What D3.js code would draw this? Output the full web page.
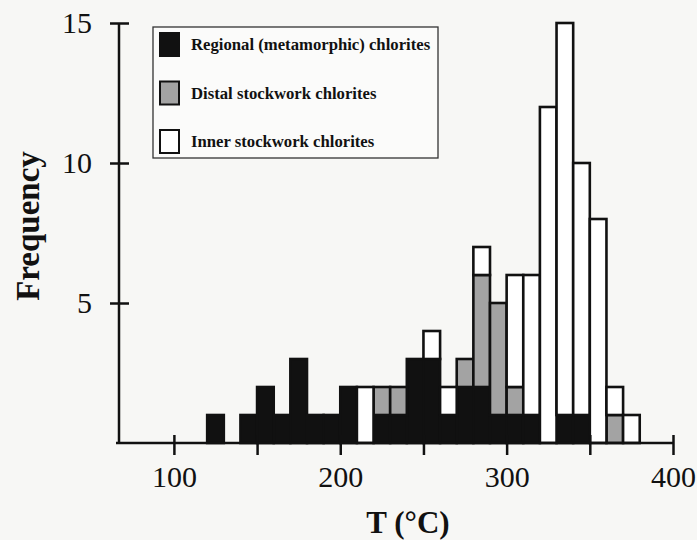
<!DOCTYPE html>
<html>
<head>
<meta charset="utf-8">
<script src="https://cdn.jsdelivr.net/npm/d3@7/dist/d3.min.js"></script>
<style>
  body { margin: 0; background: #f7f7f5; }
  svg { display: block; font-family: "Liberation Serif", "Times New Roman", serif; }
</style>
</head>
<body>
<div id="chart"></div>
<script>
// bin starts (deg C), bins are 10 deg wide
var binStarts = [120, 130, 140, 150, 160, 170, 180, 190, 200, 210, 220, 230, 240,
                 250, 260, 270, 280, 290, 300, 310, 320, 330, 340, 350, 360, 370];
var regional  = [1, 0, 1, 2, 1, 3, 1, 1, 2, 0, 1, 1, 3, 3, 1, 2, 2, 1, 1, 1, 0, 1, 1, 0, 0, 0];
var distal    = [0, 0, 0, 0, 0, 0, 0, 0, 0, 0, 1, 1, 0, 0, 0, 1, 4, 4, 1, 0, 0, 0, 0, 0, 1, 0];
var inner     = [0, 0, 0, 0, 0, 0, 0, 0, 0, 2, 0, 0, 0, 1, 1, 0, 1, 0, 4, 5, 12, 14, 9, 8, 1, 1];

var seriesNames = ["Regional (metamorphic) chlorites", "Distal stockwork chlorites", "Inner stockwork chlorites"];
var seriesKeys = ["regional", "distal", "inner"];
var seriesColors = ["#111111", "#a3a3a3", "#ffffff"];
var xTicks = [100, 150, 200, 250, 300, 350, 400];
var xTickLabels = ["100", "", "200", "", "300", "", "400"];
var yTicks = [5, 10, 15];

var width = 697, height = 540;
var binWidth = 10;

var svg = d3.select("#chart").append("svg")
    .attr("width", width)
    .attr("height", height);

var x = d3.scaleLinear().domain([67, 400]).range([119, 673]);
var y = d3.scaleLinear().domain([0, 15]).range([443, 23]);

var rows = binStarts.map(function (b, i) {
    return { bin: b, regional: regional[i], distal: distal[i], inner: inner[i] };
});
var stacked = d3.stack().keys(seriesKeys)(rows);

// bars
var layers = svg.append("g").selectAll("g")
    .data(stacked)
    .enter().append("g")
    .attr("fill", function (d, i) { return seriesColors[i]; });

layers.selectAll("rect")
    .data(function (d) { return d.filter(function (s) { return s[1] > s[0]; }); })
    .enter().append("rect")
    .attr("x", function (d) { return x(d.data.bin); })
    .attr("width", function (d) { return x(d.data.bin + binWidth) - x(d.data.bin); })
    .attr("y", function (d) { return y(d[1]); })
    .attr("height", function (d) { return y(d[0]) - y(d[1]); })
    .attr("stroke", "#111")
    .attr("stroke-width", 2.6);

// x axis
var xAxis = svg.append("g")
    .attr("transform", "translate(0," + y(0) + ")")
    .call(d3.axisBottom(x).tickValues(xTicks).tickSize(12).tickSizeOuter(0)
        .tickFormat(function (d, i) { return xTickLabels[i]; }));
xAxis.select(".domain").attr("stroke", "#111").attr("stroke-width", 2.5)
    .attr("d", "M" + (x.range()[0] - 3) + ",0H" + x.range()[1]);
xAxis.selectAll(".tick line").attr("stroke", "#111").attr("stroke-width", 2.5).attr("y1", -8);
xAxis.selectAll(".tick text").attr("font-size", 30).attr("fill", "#111")
    .attr("font-family", "Liberation Serif, serif").attr("dy", "0").attr("y", 44);

// y axis
var yAxis = svg.append("g")
    .attr("transform", "translate(" + x.range()[0] + ",0)")
    .call(d3.axisLeft(y).tickValues(yTicks).tickSize(9).tickSizeOuter(0).tickPadding(18));
yAxis.select(".domain").attr("stroke", "#111").attr("stroke-width", 2.5)
    .attr("d", "M0," + y(15) + "V" + y(0));
yAxis.selectAll(".tick line").attr("stroke", "#111").attr("stroke-width", 2.5).attr("x2", 10).attr("x1", -9);
yAxis.selectAll(".tick text").attr("font-size", 30).attr("fill", "#111")
    .attr("font-family", "Liberation Serif, serif");

// axis titles
svg.append("text")
    .attr("transform", "translate(39,226) rotate(-90)")
    .attr("text-anchor", "middle")
    .attr("font-size", 33)
    .attr("font-weight", "bold")
    .attr("fill", "#111")
    .text("Frequency");

svg.append("text")
    .attr("x", 408)
    .attr("y", 533)
    .attr("text-anchor", "middle")
    .attr("font-size", 31)
    .attr("font-weight", "bold")
    .attr("fill", "#111")
    .text("T (\u00B0C)");

// legend
var legend = svg.append("g");
legend.append("rect")
    .attr("x", 153).attr("y", 27)
    .attr("width", 285).attr("height", 131)
    .attr("fill", "#fbfbfa")
    .attr("stroke", "#333")
    .attr("stroke-width", 1.3);

var items = legend.selectAll("g.item")
    .data(seriesNames)
    .enter().append("g")
    .attr("class", "item")
    .attr("transform", function (d, i) { return "translate(0," + (i * 48.5) + ")"; });

items.append("rect")
    .attr("x", 160).attr("y", 33)
    .attr("width", 19).attr("height", 23)
    .attr("fill", function (d, i) { return seriesColors[i]; })
    .attr("stroke", "#111")
    .attr("stroke-width", 2);

items.append("text")
    .attr("x", 191)
    .attr("y", 50)
    .attr("font-size", 16.7)
    .attr("font-weight", "bold")
    .attr("fill", "#111")
    .text(function (d) { return d; });
</script>
</body>
</html>
